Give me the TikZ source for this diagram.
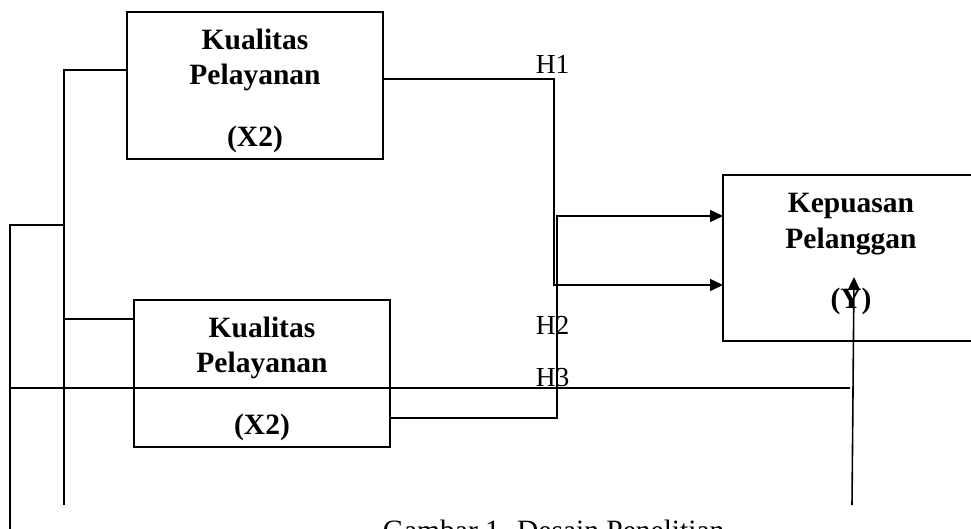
\documentclass[tikz,border=0pt]{standalone}
\usepackage{fontspec}
\setmainfont{Liberation Serif}
\usetikzlibrary{arrows.meta}
\begin{document}
\begin{tikzpicture}[x=1pt,y=-1pt,line width=1.6pt,
  box/.style={draw, rectangle, minimum width=256pt, minimum height=147pt, inner sep=0pt},
  boxtxt/.style={font=\bfseries\fontsize{29.5}{35}\selectfont, anchor=base, inner sep=0pt},
  hlabel/.style={font=\fontsize{27.5}{33}\selectfont, anchor=base west, inner sep=0pt},
  arr/.style={-{Triangle[length=13pt,width=12pt]}}]
\useasboundingbox (0,0) rectangle (971,529);
\clip (0,0) rectangle (971,529);

% variable boxes
\node[box] (xa) at (255,85.5) {};
\node[box] (xb) at (262,373.5) {};
\node[box, minimum width=296pt, minimum height=166pt] (yy) at (871,258) {};

% box texts
\node[boxtxt] (xa1) at (255,50) {Kualitas};
\node[boxtxt] (xa2) at (255,85) {Pelayanan};
\node[boxtxt] (xa3) at (255,147) {(X2)};
\node[boxtxt] (xb1) at (262,337) {Kualitas};
\node[boxtxt] (xb2) at (262,372) {Pelayanan};
\node[boxtxt] (xb3) at (262,434) {(X2)};
\node[boxtxt] (yy1) at (851,213) {Kepuasan};
\node[boxtxt] (yy2) at (851,248) {Pelanggan};
\node[boxtxt] (yy3) at (851,308) {(Y)};

% hypothesis labels
\node[hlabel] (h1) at (535,74) {H1};
\node[hlabel] (h2) at (535,334) {H2};
\node[hlabel] (h3) at (535,386) {H3};

% junction points
\coordinate (ja) at (64,70);
\coordinate (jb) at (64,319);
\coordinate (jc) at (64,225);
\coordinate (ea) at (64,505);
\coordinate (lc) at (10,225);
\coordinate (le) at (10,535);
\coordinate (h3s) at (10,388);
\coordinate (h3e) at (850,388);
\coordinate (ra) at (554,79);
\coordinate (rb) at (557,418);
\coordinate (ya) at (723,285);
\coordinate (yb) at (723,216);
\coordinate (ys) at (852,505);
\coordinate (yt) at (854,277);

% left bracket lines
\draw (xa.west |- ja) -- (ja) -- (ea);
\draw (jb) -- (xb.west |- jb);
\draw (le) -- (lc) -- (jc);
\draw (h3s) -- (h3e);

% paths into the dependent variable
\draw[arr] (xa.east |- ra) -- (ra) -- (ra |- ya) -- (ya);
\draw[arr] (xb.east |- rb) -- (rb) -- (rb |- yb) -- (yb);
\draw[arr] (ys) -- (yt);

% caption
\node[font=\fontsize{29.5}{35}\selectfont, anchor=base west, inner sep=0pt] (cap) at (382,540.5) {Gambar 1. Desain Penelitian};
\end{tikzpicture}
\end{document}
